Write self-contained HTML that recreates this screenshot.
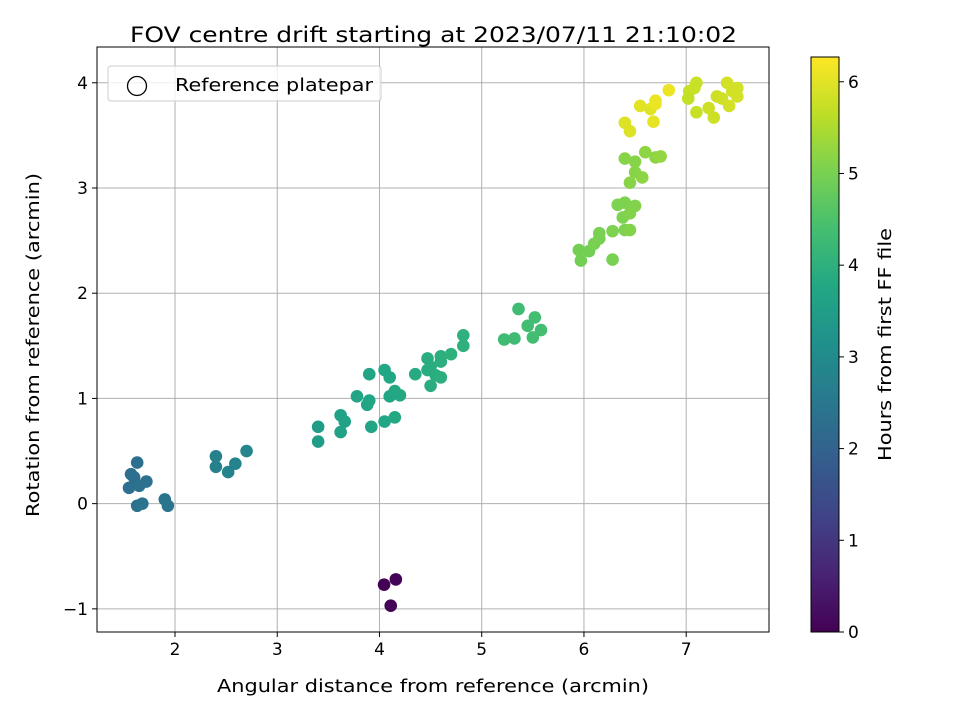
<!DOCTYPE html>
<html><head><meta charset="utf-8"><style>
body{margin:0;background:#fff;font-family:"Liberation Sans","DejaVu Sans",sans-serif}
svg text{font-family:"DejaVu Sans","Liberation Sans",sans-serif}
</style></head><body>
<svg id="chart" width="960" height="720" viewBox="0 0 960 720" xmlns="http://www.w3.org/2000/svg">
<rect width="960" height="720" fill="#fff"/>
<g id="grid"></g><g id="pts"></g><g id="axes"></g>
</svg>
<script>
const xs=[4.045,4.16,4.11,1.55,1.57,1.6,1.63,1.65,1.72,1.63,1.68,1.9,1.93,2.4,2.4,2.52,2.59,2.7,3.4,3.4,3.62,3.62,3.66,3.78,3.88,3.9,3.9,3.92,4.05,4.05,4.1,4.1,4.15,4.15,4.2,4.35,4.47,4.47,4.5,4.5,4.55,4.6,4.6,4.6,4.7,4.82,4.82,5.22,5.32,5.36,5.45,5.5,5.52,5.58,5.95,5.97,6.05,6.1,6.15,6.15,6.28,6.28,6.33,6.38,6.4,6.4,6.45,6.45,6.5,6.4,6.45,6.5,6.5,6.57,6.6,6.7,6.75,6.4,6.45,6.55,6.65,6.68,6.7,6.7,6.83,7.02,7.03,7.08,7.1,7.1,7.22,7.27,7.3,7.35,7.4,7.42,7.45,7.5,7.5];
const ys=[-0.77,-0.72,-0.97,0.15,0.28,0.25,0.39,0.17,0.21,-0.02,0.0,0.04,-0.02,0.45,0.35,0.3,0.38,0.5,0.59,0.73,0.84,0.68,0.78,1.02,0.94,0.98,1.23,0.73,1.27,0.78,1.2,1.02,1.07,0.82,1.03,1.23,1.38,1.27,1.12,1.3,1.22,1.35,1.2,1.4,1.42,1.6,1.5,1.56,1.57,1.85,1.69,1.58,1.77,1.65,2.41,2.31,2.4,2.47,2.52,2.57,2.32,2.59,2.84,2.72,2.86,2.6,2.6,2.76,2.83,3.28,3.05,3.25,3.15,3.1,3.34,3.29,3.3,3.62,3.54,3.78,3.75,3.63,3.8,3.83,3.93,3.85,3.92,3.95,4.0,3.72,3.76,3.67,3.87,3.85,4.0,3.78,3.92,3.95,3.87];
const hours=[0.02,0.05,0.03,2.3,2.3,2.3,2.3,2.35,2.35,2.35,2.4,2.4,2.4,2.75,2.75,2.8,2.8,2.85,3.5,3.5,3.6,3.6,3.6,3.7,3.7,3.7,3.7,3.7,3.75,3.75,3.75,3.75,3.8,3.8,3.8,3.85,3.9,3.9,3.9,3.9,3.9,3.95,3.95,3.95,4.0,4.0,4.0,4.3,4.3,4.3,4.35,4.35,4.35,4.35,4.95,4.95,4.95,5.0,5.0,5.0,5.0,5.05,5.05,5.05,5.05,5.05,5.1,5.1,5.1,5.15,5.15,5.15,5.15,5.2,5.2,5.2,5.25,5.95,5.95,6.0,6.0,6.05,6.1,6.1,6.1,5.7,5.7,5.75,5.75,5.75,5.8,5.8,5.8,5.8,5.85,5.85,5.85,5.85,5.85];
const xTicks=[2,3,4,5,6,7];
const yTicks=[-1,0,1,2,3,4];
const cTicks=[0,1,2,3,4,5,6];
const L=97,R=769,T=47,B=632;
const xMin=1.237,xMax=7.81,yMin=-1.22,yMax=4.34,cMax=6.27;
const X=v=>L+(v-xMin)/(xMax-xMin)*(R-L);
const Y=v=>B-(v-yMin)/(yMax-yMin)*(B-T);
const vir=[[68,1,84],[72,35,116],[64,67,135],[52,94,141],[41,120,142],[32,144,140],[34,167,132],[68,190,112],[121,209,81],[189,222,38],[253,231,37]];
function cmap(t){t=Math.max(0,Math.min(1,t));const p=t*(vir.length-1),i=Math.min(Math.floor(p),vir.length-2),f=p-i;const c=vir[i].map((a,k)=>Math.round(a+(vir[i+1][k]-a)*f));return`rgb(${c})`;}
const NS="http://www.w3.org/2000/svg";
function mk(tag,at,parent,txt){const e=document.createElementNS(NS,tag);for(const k in at)e.setAttribute(k,at[k]);if(txt!==undefined)e.textContent=txt;parent.appendChild(e);return e;}
const svg=document.getElementById('chart'),grid=document.getElementById('grid'),pts=document.getElementById('pts'),axes=document.getElementById('axes');
xTicks.forEach(v=>{const x=X(v);
 let g=mk('line',{x1:x,x2:x,y1:T,y2:B,stroke:'#b0b0b0','stroke-width':1},grid);
 mk('line',{x1:x,x2:x,y1:B,y2:B+5,stroke:'#000'},axes);
 let t=mk('text',{x:x,y:B+23,'text-anchor':'middle','font-size':17},axes,String(v));});
yTicks.forEach(v=>{const y=Y(v);
 let g=mk('line',{x1:L,x2:R,y1:y,y2:y,stroke:'#b0b0b0','stroke-width':1},grid);
 mk('line',{x1:L-5,x2:L,y1:y,y2:y,stroke:'#000'},axes);
 let t=mk('text',{x:L-9,y:y+6,'text-anchor':'end','font-size':17},axes,v<0?'−'+Math.abs(v):String(v));});
xs.forEach((v,i)=>{let c=mk('circle',{cx:X(v),cy:Y(ys[i]),r:6.3,fill:cmap(hours[i]/cMax)},pts);});
let fr=mk('rect',{x:L,y:T,width:R-L,height:B-T,fill:'none',stroke:'#000','stroke-width':1},axes);
let ti=mk('text',{x:130,y:42,'font-size':21,textLength:607,lengthAdjust:'spacingAndGlyphs'},axes,'FOV centre drift starting at 2023/07/11 21:10:02');
let xl=mk('text',{x:217,y:692,'font-size':17.5,textLength:432,lengthAdjust:'spacingAndGlyphs'},axes,'Angular distance from reference (arcmin)');
let yl=mk('text',{x:-517,y:39,'font-size':17.5,textLength:344,lengthAdjust:'spacingAndGlyphs',transform:'rotate(-90)'},axes,'Rotation from reference (arcmin)');
let lg=mk('g',{},axes);
mk('rect',{x:108,y:66,width:273,height:35,rx:3,fill:'#fff','fill-opacity':0.8,stroke:'#ccc'},lg);
mk('circle',{cx:137,cy:86,r:9.5,fill:'none',stroke:'#000','stroke-width':1.3},lg);
mk('text',{x:175,y:91,'font-size':17.5,textLength:198,lengthAdjust:'spacingAndGlyphs'},lg,'Reference platepar');
const CL=811,CR=839,CT=57;
const defs=mk('defs',{},svg);const gr=mk('linearGradient',{id:'vg',x1:0,y1:1,x2:0,y2:0},defs);
vir.forEach((c,i)=>mk('stop',{offset:i/(vir.length-1),'stop-color':`rgb(${c})`},gr));
let cb=mk('rect',{x:CL,y:CT,width:CR-CL,height:B-CT,fill:'url(#vg)',stroke:'#000','stroke-width':1},axes);
const CY=v=>B-v/cMax*(B-CT);
cTicks.forEach(v=>{const y=CY(v);mk('line',{x1:CR,x2:CR+5,y1:y,y2:y,stroke:'#000'},axes);
 let t=mk('text',{x:CR+9,y:y+6,'font-size':17},axes,String(v));});
let cl=mk('text',{x:-461,y:891,'font-size':17.5,textLength:233,lengthAdjust:'spacingAndGlyphs',transform:'rotate(-90)'},axes,'Hours from first FF file');
</script>
</body></html>
